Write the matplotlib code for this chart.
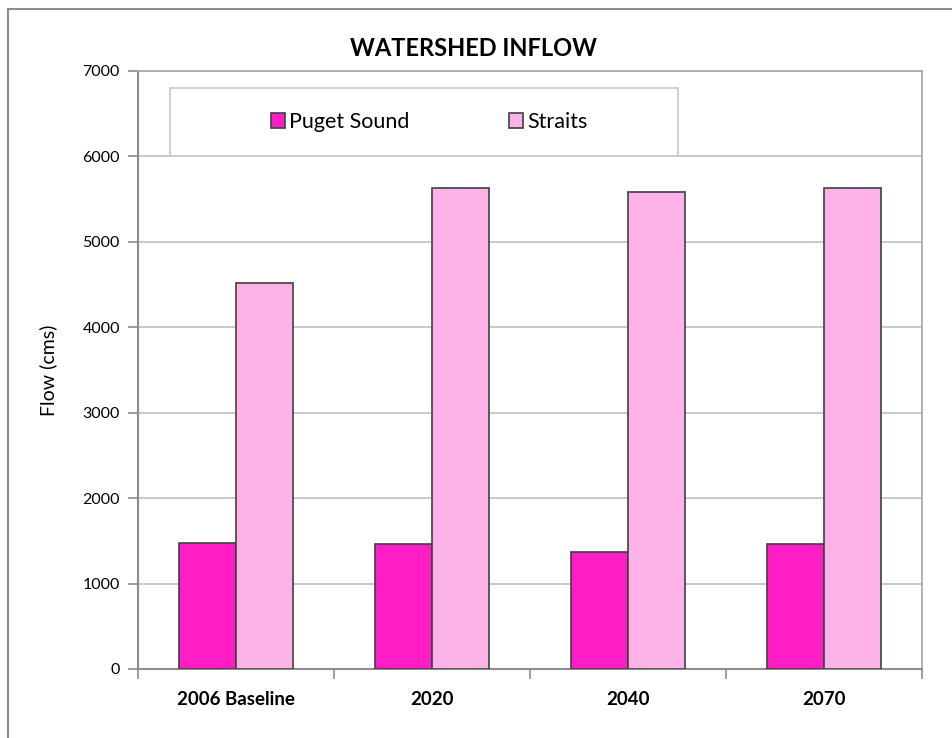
import matplotlib.pyplot as plt
import numpy as np
from matplotlib.patches import Rectangle

# Watershed inflow by scenario (cms)
categories = ["2006 Baseline", "2020", "2040", "2070"]
puget_sound = [1480, 1460, 1370, 1460]
straits = [4520, 5630, 5585, 5635]
series_names = ["Puget Sound", "Straits"]

plt.rcParams['font.family'] = ['Lato', 'DejaVu Sans']

W, H = 952, 738
fig = plt.figure(figsize=(W / 100, H / 100), dpi=100)
ax = fig.add_axes([138 / W, 1 - 669 / H, 784 / W, 598 / H])

x = np.arange(len(categories))
w = 0.29
ax.bar(x - w / 2, puget_sound, w, color="#FF1DC6", edgecolor="#404040", linewidth=1.2,
       label=series_names[0], zorder=3)
ax.bar(x + w / 2, straits, w, color="#FDB3E8", edgecolor="#404040", linewidth=1.2,
       label=series_names[1], zorder=3)

ax.set_xlim(-0.5, len(categories) - 0.5)
ax.set_ylim(0, 7000)
ax.set_yticks(np.arange(0, 7001, 1000))
ax.yaxis.grid(True, color="#C0C0C0", linewidth=1.2, zorder=0)
ax.set_axisbelow(True)

# category labels centred, tick marks between categories
ax.set_xticks(x)
ax.set_xticklabels(categories, fontweight="bold", fontsize=13.5)
ax.set_xticks(np.arange(-0.5, len(categories)), minor=True)
ax.tick_params(axis="x", which="major", length=0, pad=16)
ax.tick_params(axis="x", which="minor", length=7, width=1.2, color="#8C8C8C")
ax.tick_params(axis="y", length=7, width=1.2, color="#8C8C8C", labelsize=11.5, pad=6)

for side in ["left", "bottom"]:
    ax.spines[side].set_color("#8C8C8C")
    ax.spines[side].set_linewidth(1.5)
for side in ["top", "right"]:
    ax.spines[side].set_color("#A6A6A6")
    ax.spines[side].set_linewidth(1.2)

ax.set_ylabel("Flow (cms)", fontsize=14, labelpad=18)

fig.text(474 / W, 1 - 48 / H, "WATERSHED INFLOW", ha="center", va="center",
         fontsize=17, fontweight="bold")

# legend: white framed box with the two entries spread across it
fig.patches.append(Rectangle((170 / W, 1 - 156 / H), 508 / W, 68 / H,
                             transform=fig.transFigure, facecolor="white",
                             edgecolor="#C8C8C8", linewidth=1.2, zorder=4))
leg = fig.legend(loc="center", bbox_to_anchor=(429 / W, 1 - 122 / H),
                 ncol=2, frameon=False, fontsize=15.5, handlelength=0.65,
                 handleheight=0.65, handletextpad=0.2, columnspacing=4.6)
leg.set_zorder(5)

# outer chart border
fig.patches.append(Rectangle((8 / W, -0.1), 1.2, 1.1 - 9 / H, transform=fig.transFigure,
                             fill=False, edgecolor="#8C8C8C", linewidth=1.5))

fig.savefig("out.png", dpi=100)
